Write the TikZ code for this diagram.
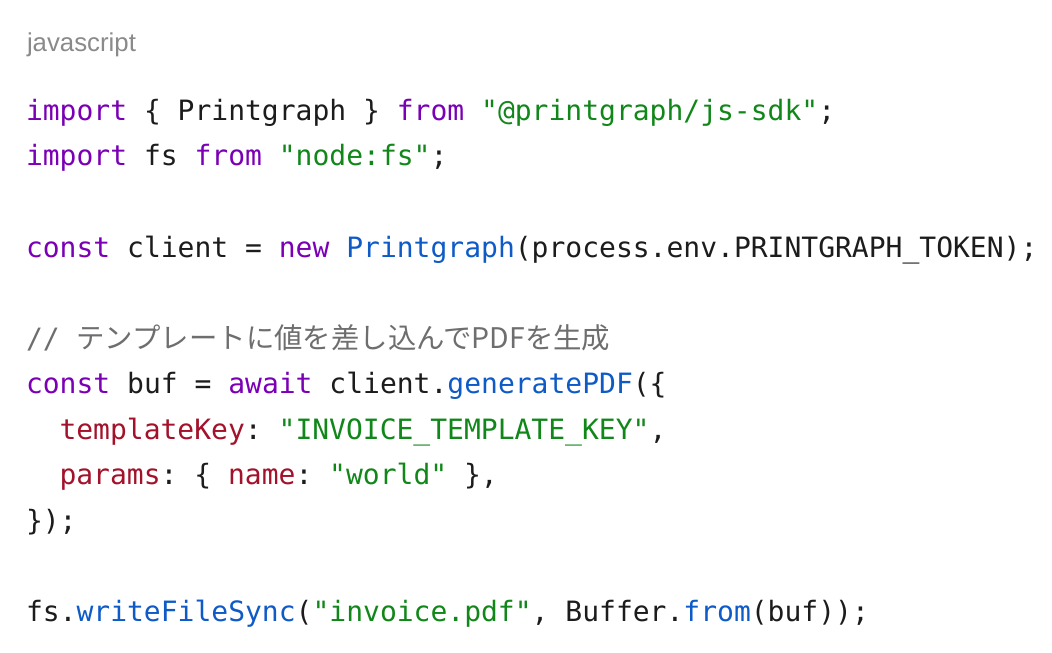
\documentclass[tikz,border=0pt]{standalone}
\usepackage{fontspec}
\setmainfont{Liberation Sans}
\newfontfamily\codefont{DejaVu Sans Mono}
\newfontfamily\cjkfont{Noto Sans CJK JP}
\newfontfamily\labelfont{Liberation Sans}
\definecolor{kw}{HTML}{7B00B5}
\definecolor{strc}{HTML}{11871A}
\definecolor{fnc}{HTML}{0E5BC7}
\definecolor{propc}{HTML}{A3122B}
\definecolor{txt}{HTML}{1C1C1C}
\definecolor{cmt}{HTML}{6E6E70}
\definecolor{lbl}{HTML}{8A8A8A}
\newcommand{\cKw}[1]{\textcolor{kw}{#1}}
\newcommand{\cStr}[1]{\textcolor{strc}{#1}}
\newcommand{\cFn}[1]{\textcolor{fnc}{#1}}
\newcommand{\cProp}[1]{\textcolor{propc}{#1}}
\frenchspacing
\begin{document}
\begin{tikzpicture}[x=0.5pt,y=-0.5pt,
  codeline/.style={anchor=base west, inner sep=0pt, outer sep=0pt, text=txt,
    font={\codefont\fontsize{14pt}{16pt}\selectfont}},
  langlabel/.style={anchor=base west, inner sep=0pt, outer sep=0pt, text=lbl,
    font={\labelfont\fontsize{12.9pt}{15pt}\selectfont}}]
\fill[white] (0,0) rectangle (1052,652);
\useasboundingbox (0,0) rectangle (1052,652);
\node[langlabel] (lang) at (27,51.5) {javascript};
\node[codeline] (l1) at (26,120.5) {\cKw{import} \{ Printgraph \} \cKw{from} \cStr{"@printgraph/js-sdk"};};
\node[codeline] (l2) at (26,166) {\cKw{import} fs \cKw{from} \cStr{"node:fs"};};
\node[codeline] (l4) at (26,257) {\cKw{const} client = \cKw{new} \cFn{Printgraph}(process.env.PRINTGRAPH\_TOKEN);};
\node[codeline] (l6) at (26,348) {\textcolor{cmt}{// {\cjkfont\fontsize{14.2pt}{16pt}\selectfont テンプレートに値を差し込んでPDFを生成}}};
\node[codeline] (l7) at (26,393.5) {\cKw{const} buf = \cKw{await} client.\cFn{generatePDF}(\{};
\node[codeline] (l8) at (59.5,439) {\cProp{templateKey}: \cStr{"INVOICE\_TEMPLATE\_KEY"},};
\node[codeline] (l9) at (59.5,484.5) {\cProp{params}: \{ \cProp{name}: \cStr{"world"} \},};
\node[codeline] (l10) at (26,530) {\});};
\node[codeline] (l12) at (26,621) {fs.\cFn{writeFileSync}(\cStr{"invoice.pdf"}, Buffer.\cFn{from}(buf));};
\end{tikzpicture}
\end{document}
